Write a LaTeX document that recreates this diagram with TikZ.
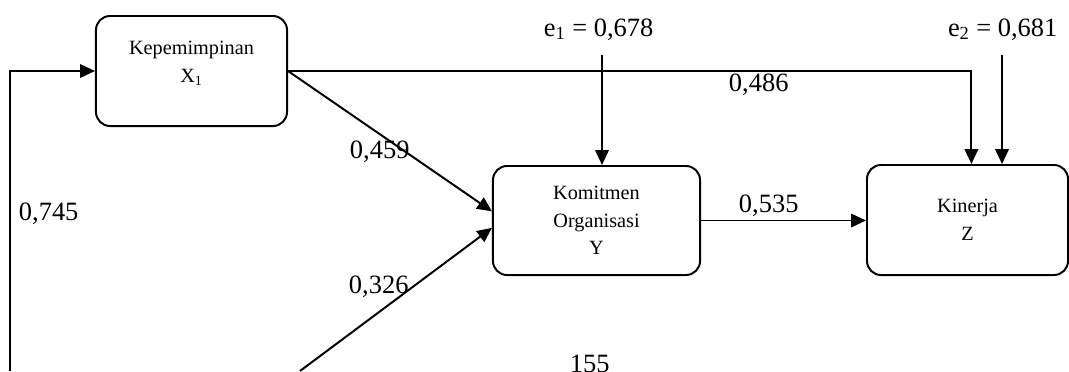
\documentclass[tikz,border=0pt]{standalone}
\usepackage{fontspec}
\setmainfont{Liberation Serif}
\usetikzlibrary{arrows.meta}

\begin{document}
\begin{tikzpicture}[x=0.025cm, y=0.025cm, line width=1.4pt,
		var/.style={draw, rounded corners=10pt, align=center, inner sep=0pt, font=\fontsize{14.4}{19.5}\selectfont},
		coef/.style={anchor=base west, inner sep=0pt, font=\fontsize{18.8}{22}\selectfont},
		>={Triangle[length=10.5pt, width=9.5pt]}]
			\useasboundingbox (0, 0) rectangle (1069, 371);
			\node	(X1)	at	(191.5, 300)	[var, minimum width=4.775cm, minimum height=2.75cm]	{Kepemimpinan\\X\textsubscript{1}\rule[-13pt]{0pt}{13pt}};
			\node	(Y)		at	(596.5, 150.5)	[var, minimum width=5.175cm, minimum height=2.725cm]	{Komitmen\\Organisasi\\Y};
			\node	(Z)		at	(967.5, 151)	[var, minimum width=5.025cm, minimum height=2.75cm]	{Kinerja\\Z};
			\node	(E1)	at	(543, 335)		[coef]	{e\textsubscript{1} = 0,678};
			\node	(E2)	at	(947, 335)		[coef]	{e\textsubscript{2} = 0,681};
			\coordinate	(X2L)	at	(10, 0);
			\coordinate	(X2R)	at	(300, 0);
			\coordinate	(E1s)	at	(602, 316);
			\coordinate	(E2s)	at	(1002, 316);

			\draw	[->]	(X2L)		|-	(X1.west);
			\draw	[->]	(X1.east)	--	(Y.175);
			\draw	[->]	(X2R)		--	(Y.184);
			\draw	[->]	(X1.east)	-|	(Z.86);
			\draw	[->]	(Y.east)	--	(Y.east -| Z.west);
			\draw	[->]	(E1s)		--	(E1s |- Y.north);
			\draw	[->]	(E2s)		--	(E2s |- Z.north);

			\node	(L745)	at	(18, 151)	[coef]	{0,745};
			\node	(L459)	at	(349, 213)	[coef]	{0,459};
			\node	(L326)	at	(348, 78)	[coef]	{0,326};
			\node	(L486)	at	(728, 280)	[coef]	{0,486};
			\node	(L535)	at	(738, 159)	[coef]	{0,535};
			\node	(P155)	at	(569, -1.5)	[coef]	{155};
		\end{tikzpicture}
\end{document}
